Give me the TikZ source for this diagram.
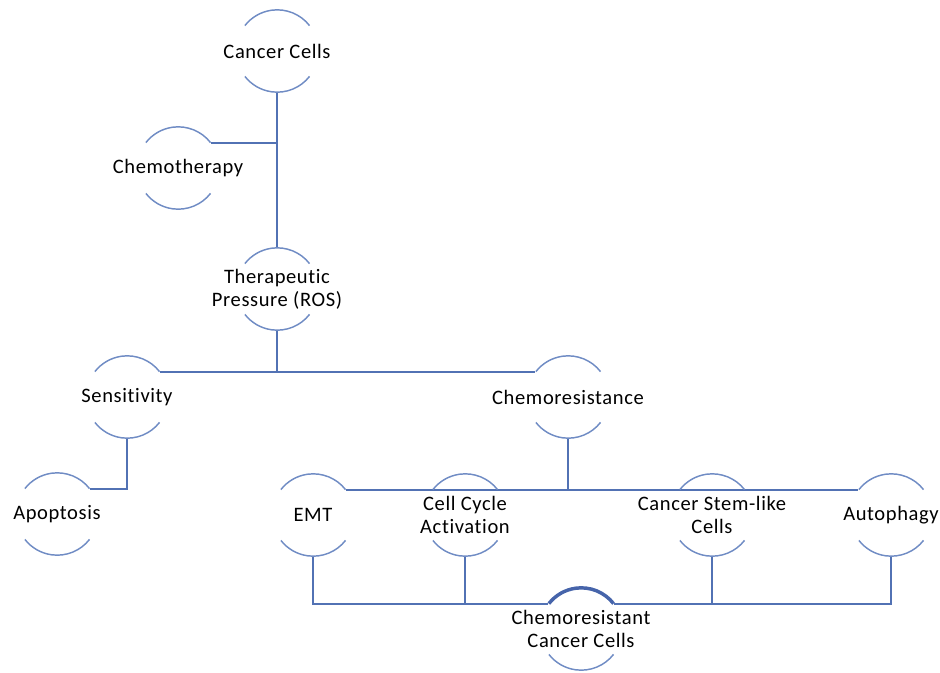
\documentclass[tikz,border=0pt]{standalone}
\usepackage{fontspec}
\setmainfont{Carlito}[LetterSpace=3, Ligatures={NoCommon}]
\usetikzlibrary{positioning}
\definecolor{halocol}{RGB}{112,140,196}
\definecolor{linkcol}{RGB}{82,114,180}
\definecolor{markcol}{RGB}{70,100,170}

\begin{document}
\begin{tikzpicture}[y=-0.75pt,x=0.75pt,
	bubble/.style={circle, minimum size=61.5pt, inner sep=0pt},
	txt/.style={align=center, font=\fontsize{15.4}{17.5}\selectfont, inner sep=0pt},
	halo/.style={draw=halocol, line width=1.1pt},
	link/.style={draw=linkcol, line width=1.5pt}]
	\newcommand\Halves[2][]{\draw[halo,#1] (#2.38) arc[start angle=38,end angle=142,radius=30.75pt] (#2.-38) arc[start angle=-38,end angle=-142,radius=30.75pt];}
	\useasboundingbox (0,0) rectangle (940,672);

	\node[bubble, label={[txt]center:Cancer Cells}] (cancer) at (277,51) {};
	\node[bubble, label={[txt]center:Chemotherapy}] (chemo) at (178,168) {};
	\node[bubble, label={[txt]center:{Therapeutic\\Pressure (ROS)}}] (press) at (277,289) {};
	\node[bubble, label={[txt]center:Sensitivity}] (sens) at (127,397) {};
	\node[bubble, label={[txt]center:Chemoresistance}] (resist) at (568,397) {};
	\node[bubble, label={[txt]center:Apoptosis}] (apop) at (57,514) {};
	\node[bubble, label={[txt]center:EMT}] (emt) at (313,515) {};
	\node[bubble, label={[txt]center:{Cell Cycle\\Activation}}] (cycle) at (465,515) {};
	\node[bubble, label={[txt]center:{Cancer Stem-like\\Cells}}] (stem) at (712,515) {};
	\node[bubble, label={[txt]center:Autophagy}] (auto) at (891,515) {};
	\node[bubble, label={[txt]center:{Chemoresistant\\Cancer Cells}}] (final) at (581,629) {};

	% connectors
	\draw[link] (cancer.south) -- (press.north);
	\draw[link] (chemo.38) -- (chemo.38 -| cancer.south);
	\draw[link] (sens.38) -- (resist.142);
	\draw[link] (press.south) -- (press.south |- sens.38);
	\draw[link] (sens.south) |- (apop.38);
	\draw[link] (emt.38) -- (auto.142);
	\draw[link] (resist.south) -- (resist.south |- emt.38);
	\draw[link] (emt.south) |- (final.142);
	\draw[link] (auto.south) |- (final.38);
	\draw[link] (cycle.south) -- (cycle.south |- final.142);
	\draw[link] (stem.south) -- (stem.south |- final.38);

	\Halves{cancer}
	\Halves{chemo}
	\Halves{press}
	\Halves{sens}
	\Halves{resist}
	\Halves{apop}
	\Halves{emt}
	\Halves{cycle}
	\Halves{stem}
	\Halves{auto}
	\draw[halo, draw=markcol, line width=2.6pt] (final.38) arc[start angle=38,end angle=142,radius=30.75pt];
	\draw[halo] (final.-38) arc[start angle=-38,end angle=-142,radius=30.75pt];
\end{tikzpicture}
\end{document}
